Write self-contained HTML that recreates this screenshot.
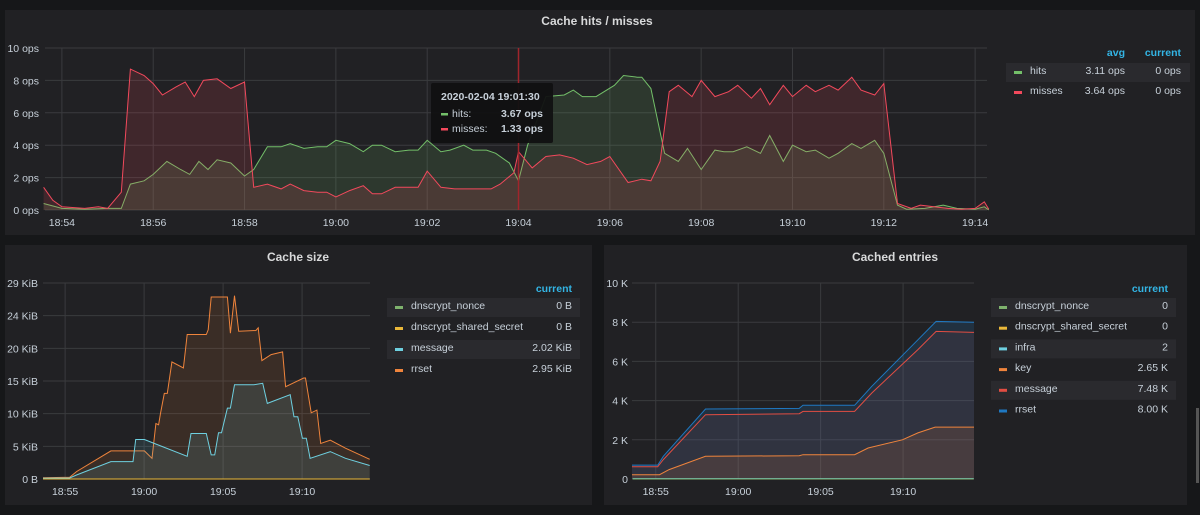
<!DOCTYPE html>
<html><head><meta charset="utf-8"><style>
html,body{margin:0;padding:0;background:#161719;width:1200px;height:515px;overflow:hidden}
svg{display:block;font-family:"Liberation Sans",sans-serif}
.tick{fill:#c7d0d9;font-size:10.5px}
.title{fill:#d8d9da;font-size:12px;font-weight:bold}
.leg{fill:#c7d0d9;font-size:10.5px}
.hdr{fill:#33b5e5;font-size:10.5px;font-weight:bold}
</style></head><body>
<svg id="dash" width="1200" height="515" viewBox="0 0 1200 515">
<rect x="5" y="10" width="1190" height="225" fill="#212124"/>
<rect x="5" y="245" width="587" height="260" fill="#212124"/>
<rect x="604" y="245" width="583" height="260" fill="#212124"/>
<rect x="1196" y="408" width="3" height="75" fill="#555"/>
<text class="title" x="597" y="25" text-anchor="middle">Cache hits / misses</text>
<text class="title" x="298" y="261" text-anchor="middle">Cache size</text>
<text class="title" x="895" y="261" text-anchor="middle">Cached entries</text>
<g id="g1"></g><g id="g2"></g><g id="g3"></g>
</svg>
<script>
// ---- Chart 1: hits / misses (minutes after 18:00, ops) ----
const hitsT=[53.6,54,54.5,55,55.3,55.5,55.8,56,56.3,56.6,56.8,57,57.2,57.4,57.7,58,58.2,58.5,58.8,59,59.3,59.6,59.8,60,60.3,60.6,60.8,61,61.3,61.6,61.8,62,62.3,62.5,62.8,63,63.3,63.5,63.8,64,64.2,64.6,65,65.2,65.4,65.7,66.1,66.3,66.6,66.7,66.9,67.2,67.5,67.7,68,68.3,68.5,68.7,69,69.3,69.5,69.8,70,70.3,70.5,70.8,71,71.3,71.5,71.8,72,72.3,72.5,72.9,73.3,73.6,74,74.2,74.3];
const hitsV=[0.4,0.1,0.05,0.1,0.1,1.6,1.8,2.2,3.0,2.5,2.2,3.0,2.5,3.1,2.9,2.1,2.5,3.9,3.9,4.1,3.8,3.9,3.9,4.3,4.1,3.6,4.0,4.0,3.6,3.7,3.7,4.3,3.6,3.7,4.0,3.7,3.7,3.5,2.9,1.8,4.0,7.0,7.1,7.4,7.0,7.0,7.7,8.3,8.2,8.2,7.5,3.5,3.0,3.8,2.5,3.7,3.6,3.6,3.9,3.5,4.6,3.0,4.0,3.6,3.7,3.2,3.5,4.1,3.8,4.3,3.5,0.3,0.05,0.1,0.3,0.1,0.05,0.2,0.0];
const missT=[53.6,53.8,54,54.5,54.8,55,55.3,55.5,55.8,56,56.2,56.5,56.7,56.9,57.1,57.4,57.7,58,58.2,58.5,58.8,59,59.3,59.6,59.8,60,60.3,60.6,60.8,61,61.3,61.6,61.8,62,62.3,62.6,63,63.4,63.6,63.9,64,64.3,64.6,64.9,65.2,65.5,65.8,66,66.4,66.7,66.9,67.1,67.3,67.5,67.8,68,68.3,68.6,68.8,69.1,69.3,69.5,69.8,70,70.3,70.5,70.8,71,71.3,71.5,71.8,72,72.3,72.6,72.8,73.1,73.4,73.7,74,74.2,74.3];
const missV=[1.4,0.6,0.2,0.1,0.2,0.1,1.1,8.7,8.3,7.8,7.1,7.6,7.9,7.0,8.0,8.1,7.5,7.9,1.4,1.6,1.3,1.6,1.2,1.1,1.1,0.8,1.2,1.5,1.0,1.0,1.4,1.4,1.4,2.4,1.4,1.3,1.3,1.3,1.6,2.3,3.6,2.6,3.3,3.4,3.2,2.8,3.0,3.3,1.7,1.9,1.8,3.0,7.3,7.7,7.0,8.0,7.0,7.3,7.7,6.9,7.5,6.5,7.7,7.0,7.7,7.3,7.7,7.4,8.2,7.4,7.1,7.8,0.4,0.1,0.3,0.2,0.1,0.05,0.1,0.5,0.05];
const c1Ticks=[0,2,4,6,8,10];
const c1TimeTicks=[54,56,58,60,62,64,66,68,70,72,74];
// ---- Chart 2: cache size (KiB) ----
const rrsetSizeT=[53.6,55.29,55.72,57.9,60.02,60.5,60.75,60.92,61.04,61.28,61.47,61.76,62.49,62.73,63.94,64.06,64.25,65.27,65.46,65.72,65.99,67.08,67.22,67.46,68.04,68.77,68.96,70.1,70.22,70.58,70.94,71.18,71.79,72.75,74.28];
const rrsetSizeV=[0.2,0.25,1.1,4.2,4.2,3.1,8.3,8.1,9.8,12.8,12.8,17.5,16.6,21.6,21.6,22.3,27.2,27.2,21.8,27.4,22.1,22.2,22.6,17.7,18.6,19.0,13.8,15.1,15.1,9.9,10.3,5.3,5.8,4.6,2.95];
const msgSizeT=[53.6,55.29,55.72,57.9,59.3,59.47,60.02,60.56,62.73,62.97,63.94,64.25,64.47,64.71,64.9,65.27,65.46,65.72,66.96,67.51,67.8,69.25,69.49,69.73,70.02,70.27,70.51,71.79,72.75,74.28];
const msgSizeV=[0.1,0.15,0.6,2.6,2.6,5.9,5.9,5.4,3.4,6.8,6.8,3.6,3.6,6.9,6.9,10.6,10.6,14.1,14.1,14.3,11.3,12.6,9.3,9.3,6.1,6.1,3.1,4.1,3.1,2.02];
const zeroT=[53.6,74.28];
const zeroV=[0,0];
const c2TickLabels=["0 B","5 KiB","10 KiB","15 KiB","20 KiB","24 KiB","29 KiB"];
const c2TimeTicks=[55,60,65,70];
const c2TimeLabels=["18:55","19:00","19:05","19:10"];
// ---- Chart 3: cached entries (K) ----
const rrsetEntT=[53.56,55.12,55.46,58.02,63.7,63.93,67.06,68.1,70.9,72.0,74.3];
const rrsetEntV=[0.71,0.71,1.16,3.57,3.6,3.76,3.76,4.73,7.1,8.04,8.0];
const msgEntT=[53.56,55.12,55.46,58.02,63.7,63.93,67.06,68.1,70.9,72.0,74.3];
const msgEntV=[0.62,0.62,0.99,3.28,3.33,3.45,3.45,4.39,6.6,7.53,7.48];
const keyEntT=[53.56,55.23,55.81,58.02,63.7,63.93,67.06,67.88,69.96,70.9,71.94,74.3];
const keyEntV=[0.22,0.22,0.48,1.16,1.19,1.24,1.24,1.58,2.0,2.35,2.65,2.65];
const c3Ticks=[0,2,4,6,8,10];
const c3TickLabels=["0","2 K","4 K","6 K","8 K","10 K"];

const NS="http://www.w3.org/2000/svg";
function mk(p,tag,attrs){const e=document.createElementNS(NS,tag);for(const k in attrs)e.setAttribute(k,attrs[k]);p.appendChild(e);return e;}
function fmtT(m){const h=18+Math.floor(m/60),mm=m%60;return h+":"+String(mm).padStart(2,"0");}
function axisX(t0,t1,x0,x1){return t=>x0+(t-t0)/(t1-t0)*(x1-x0);}
function axisY(v0,v1,y0,y1){return v=>y0+(v-v0)/(v1-v0)*(y1-y0);}
function series(g,T,V,X,Y,color,fillOp,name){
  let d="";T.forEach((t,i)=>{d+=(i?"L":"M")+X(t).toFixed(1)+","+Y(V[i]).toFixed(1);});
  const area=d+"L"+X(T[T.length-1]).toFixed(1)+","+Y(0)+"L"+X(T[0]).toFixed(1)+","+Y(0)+"Z";
  if(fillOp>0){const a=mk(g,"path",{d:area,fill:color,"fill-opacity":fillOp});
    
    }
  const l=mk(g,"path",{d:d,fill:"none",stroke:color,"stroke-width":1});
  
  
}
function label(g,x,y,txt,cls,anchor,name,fill){
  const t=mk(g,"text",{x:x,y:y,class:cls,"text-anchor":anchor||"start"});
  if(fill)t.setAttribute("fill",fill);
  t.textContent=txt;
  
  
  return t;
}
function grid(g,xs,ys,x0,x1,y0,y1){
  ys.forEach(y=>{const e=mk(g,"line",{x1:x0,x2:x1,y1:y,y2:y,stroke:"#3a3b3e","stroke-width":1});
    
    });
  xs.forEach(x=>{const e=mk(g,"line",{x1:x,x2:x,y1:y0,y2:y1,stroke:"#3a3b3e","stroke-width":1});
    
    });
}
function legendRow(g,x0,x1,y,color,name,vals,valXs,shade){
  if(shade){const r=mk(g,"rect",{x:x0,y:y-11,width:x1-x0,height:19,fill:"#2a2a2e"});
    
    }
  const s=mk(g,"rect",{x:x0+8,y:y-3,width:8,height:3,fill:color});
  
  
  const t=label(g,x0+24,y,name,"leg","start",'legend-entry-'+name);
  
  vals.forEach((v,i)=>label(g,valXs[i],y,v,"leg","end",'legend-value-'+name));
}
// Chart 1
(function(){
  const g=document.getElementById("g1");
  const X=axisX(53.63,74.26,45,987),Y=axisY(0,10,210,48);
  grid(g,c1TimeTicks.map(X),c1Ticks.map(Y),45,987,48,210);
  c1Ticks.forEach(v=>label(g,39,Y(v)+4,v+" ops","tick","end","y-tick-label"));
  c1TimeTicks.forEach(t=>label(g,X(t),226,fmtT(t),"tick","middle","x-tick-label"));
  series(g,hitsT,hitsV,X,Y,"#73bf69",0.15,"hits");
  series(g,missT,missV,X,Y,"#f2495c",0.15,"misses");
  const c=mk(g,"line",{x1:X(64.0),x2:X(64.0),y1:48,y2:210,stroke:"#a0252c","stroke-width":1.5});
  
  
  const tb=mk(g,"rect",{x:431,y:83,width:122,height:60,rx:2,fill:"#111112","fill-opacity":0.95});
  
  
  const tt=label(g,441,100,"2020-02-04 19:01:30","leg","start","tooltip-time","#fff");tt.setAttribute("font-weight","bold");tt.setAttribute("font-size","11.5");
  [["hits:","3.67 ops","#73bf69",117],["misses:","1.33 ops","#f2495c",132]].forEach(r=>{
    const s=mk(g,"rect",{x:441,y:r[3]-4,width:7,height:2.5,fill:r[2]});
    
    
    label(g,452,r[3],r[0],"leg","start","tooltip-series-name");
    const v=label(g,543,r[3],r[1],"leg","end","tooltip-value","#fff");v.setAttribute("font-weight","bold");v.setAttribute("font-size","11.5");
  });
  label(g,1125,56,"avg","hdr","end","legend-header-avg");
  label(g,1181,56,"current","hdr","end","legend-header-current");
  legendRow(g,1006,1190,74,"#73bf69","hits",["3.11 ops","0 ops"],[1125,1181],true);
  legendRow(g,1006,1190,94,"#f2495c","misses",["3.64 ops","0 ops"],[1125,1181],false);
})();
// Chart 2
(function(){
  const g=document.getElementById("g2");
  const X=axisX(53.6,74.3,43,370),Y=axisY(0,29.3,479,283);
  const ticks=c2TickLabels.map((s,i)=>i*4.8828);
  grid(g,c2TimeTicks.map(X),ticks.map(Y),43,370,283,479);
  c2TickLabels.forEach((s,i)=>label(g,38,Y(ticks[i])+4,s,"tick","end","y-tick-label"));
  c2TimeTicks.forEach((t,i)=>label(g,X(t),495,c2TimeLabels[i],"tick","middle","x-tick-label"));
  series(g,rrsetSizeT,rrsetSizeV,X,Y,"#ef843c",0.12,"rrset");
  series(g,msgSizeT,msgSizeV,X,Y,"#6ed0e0",0.12,"message");
  series(g,zeroT,zeroV,X,Y,"#7eb26d",0,"dnscrypt-nonce");
  series(g,zeroT,zeroV,X,Y,"#eab839",0,"dnscrypt-shared-secret");
  label(g,572,292,"current","hdr","end","legend-header-current");
  const rows=[["#7eb26d","dnscrypt_nonce","0 B"],["#eab839","dnscrypt_shared_secret","0 B"],["#6ed0e0","message","2.02 KiB"],["#ef843c","rrset","2.95 KiB"]];
  rows.forEach((r,i)=>legendRow(g,387,580,309+i*21,r[0],r[1],[r[2]],[572],i%2===0));
})();
// Chart 3
(function(){
  const g=document.getElementById("g3");
  const X=axisX(53.56,74.3,632,974),Y=axisY(0,10,479,283);
  grid(g,c2TimeTicks.map(X),c3Ticks.map(Y),632,974,283,479);
  c3Ticks.forEach((v,i)=>label(g,628,Y(v)+4,c3TickLabels[i],"tick","end","y-tick-label"));
  c2TimeTicks.forEach((t,i)=>label(g,X(t),495,c2TimeLabels[i],"tick","middle","x-tick-label"));
  series(g,rrsetEntT,rrsetEntV,X,Y,"#1f78c1",0.18,"rrset");
  series(g,msgEntT,msgEntV,X,Y,"#e24d42",0.08,"message");
  series(g,keyEntT,keyEntV,X,Y,"#ef843c",0.12,"key");
  series(g,zeroT,[0.02,0.02],X,Y,"#6ed0e0",0,"infra");
  series(g,zeroT,zeroV,X,Y,"#7eb26d",0,"dnscrypt-nonce");
  label(g,1168,292,"current","hdr","end","legend-header-current");
  const rows=[["#7eb26d","dnscrypt_nonce","0"],["#eab839","dnscrypt_shared_secret","0"],["#6ed0e0","infra","2"],["#ef843c","key","2.65 K"],["#e24d42","message","7.48 K"],["#1f78c1","rrset","8.00 K"]];
  rows.forEach((r,i)=>legendRow(g,991,1176,309+i*20.7,r[0],r[1],[r[2]],[1168],i%2===0));
})();
</script>
</body></html>
